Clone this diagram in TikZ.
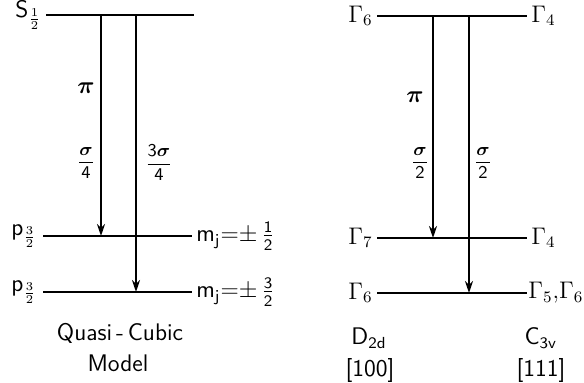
\documentclass[tikz,border=0pt]{standalone}
\usepackage{amsmath,amssymb}
\usepackage{tikz}
\usetikzlibrary{arrows.meta,positioning}
\tikzset{
  level/.style={line width=1pt},
  trans/.style={line width=1pt,-{Stealth[length=6pt,width=4pt]}},
  lab/.style={font=\sffamily\large,inner sep=1pt},
  rate/.style={font=\sffamily\small,inner sep=1pt}
}

\begin{document}
\begin{tikzpicture}[x=0.5pt,y=-0.5pt,font=\sffamily]
  \useasboundingbox (0,0) rectangle (584,383);
  % energy levels: name/left x/right x/y
  \foreach \n/\xa/\xb/\y in {sT/46/194/15, pA/43/192/236, pB/43/192/292,
                             gT/377/527/16, gA/377/527/238, gB/377/527/293}{
    \coordinate (\n-w) at (\xa,\y);
    \coordinate (\n-e) at (\xb,\y);
    \draw[level] (\n-w) -- (\n-e);}
  % transitions
  \foreach \n/\x/\ya/\yb in {l1/101/15/236, l2/136/15/292, r1/433/16/238, r2/469/16/293}{
    \coordinate (\n-top) at (\x,\ya);
    \coordinate (\n-bot) at (\x,\yb);
    \draw[trans] (\n-top) -- (\n-bot);}
  % left: quasi-cubic
  \node[lab,left=1pt of sT-w] (sHalf) {$\mathsf{S}_{\frac{1}{2}}$};
  \node[lab,left=2pt of pA-w] (pHalfA) {$\mathsf{p}_{\frac{3}{2}}$};
  \node[lab,left=2pt of pB-w] (pHalfB) {$\mathsf{p}_{\frac{3}{2}}$};
  \node[lab,right=1pt of pA-e] (mjA) {$\mathsf{m_j{=}{\pm}\,\frac{1}{2}}$};
  \node[lab,right=1pt of pB-e] (mjB) {$\mathsf{m_j{=}{\pm}\,\frac{3}{2}}$};
  \node[lab] (piL) at (86,88) {$\boldsymbol{\pi}$};
  \node[rate] (sgL1) at (86,163) {$\dfrac{\boldsymbol{\sigma}}{\mathsf{4}}$};
  \node[rate] (sgL2) at (159,163) {$\dfrac{\mathsf{3}\boldsymbol{\sigma}}{\mathsf{4}}$};
  \node[lab] (qc) at (120,333) {Quasi\,-\,Cubic};
  \node[lab] (mdl) at (118,363) {Model};
  % right: D2d and C3v
  \node[lab,left=1pt of gT-w] (gTl) {$\Gamma_{6}$};
  \node[lab,right=1pt of gT-e] (gTr) {$\Gamma_{4}$};
  \node[lab,left=1pt of gA-w] (gAl) {$\Gamma_{7}$};
  \node[lab,right=1pt of gA-e] (gAr) {$\Gamma_{4}$};
  \node[lab,left=1pt of gB-w] (gBl) {$\Gamma_{6}$};
  \node[lab,right=0.5pt of gB-e,inner sep=0pt] (gBr) {$\Gamma_{5}{,}\Gamma_{6}$};
  \node[lab] (piR) at (415,97) {$\boldsymbol{\pi}$};
  \node[rate] (sgR1) at (420,163) {$\dfrac{\boldsymbol{\sigma}}{\mathsf{2}}$};
  \node[rate] (sgR2) at (483,163) {$\dfrac{\boldsymbol{\sigma}}{\mathsf{2}}$};
  \node[lab] (dtd) at (369,338) {$\mathsf{D_{2d}}$};
  \node[lab] (dir1) at (370,371) {[100]};
  \node[lab] (ctv) at (541,338) {$\mathsf{C_{3v}}$};
  \node[lab] (dir2) at (541,371) {[111]};
\end{tikzpicture}
\end{document}
